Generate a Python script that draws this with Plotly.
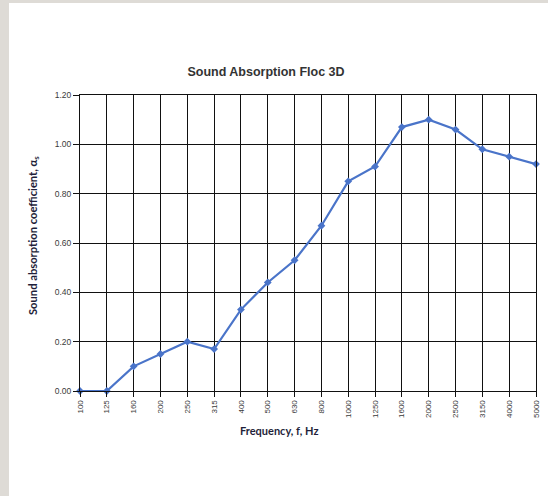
import plotly.graph_objects as go

frequencies = ["100", "125", "160", "200", "250", "315", "400", "500", "630", "800",
               "1000", "1250", "1600", "2000", "2500", "3150", "4000", "5000"]
absorption = [0.00, 0.00, 0.10, 0.15, 0.20, 0.17, 0.33, 0.44, 0.53, 0.67,
              0.85, 0.91, 1.07, 1.10, 1.06, 0.98, 0.95, 0.92]
y_ticks = [0.0, 0.2, 0.4, 0.6, 0.8, 1.0, 1.2]
y_tick_labels = ["0.00", "0.20", "0.40", "0.60", "0.80", "1.00", "1.20"]

W, H = 548, 496
L, R, T, B = 80, 12, 95, 105
pw, ph = W - L - R, H - T - B

fig = go.Figure()
fig.add_trace(go.Scatter(
    x=frequencies, y=absorption, mode="lines+markers",
    line=dict(color="#4a74c9", width=2.2),
    marker=dict(symbol="diamond", size=6, color="#4a74c9"),
    showlegend=False, cliponaxis=False,
))

fig.update_layout(
    width=W, height=H, autosize=False,
    margin=dict(l=L, r=R, t=T, b=B, pad=0, autoexpand=False),
    paper_bgcolor="white", plot_bgcolor="white",
    font=dict(family="Liberation Sans, Arial", color="#333333"),
    title=dict(text="<b>Sound Absorption Floc 3D</b>", x=266 / W, xanchor="center",
               y=1 - 72 / H, yanchor="middle",
               font=dict(size=12.5, color="#333333", family="Liberation Sans, Arial")),
    xaxis=dict(
        type="category", range=[0, len(frequencies) - 1], automargin=False,
        showgrid=True, gridcolor="#111111", gridwidth=1,
        showline=True, linecolor="#111111", linewidth=1, mirror=True,
        ticks="outside", ticklen=5, tickcolor="#111111",
        tickangle=-90, tickfont=dict(size=8, color="#3a3a3a"),
        zeroline=False,
    ),
    yaxis=dict(
        range=[0, 1.2], tickvals=y_ticks, ticktext=y_tick_labels, automargin=False,
        showgrid=True, gridcolor="#111111", gridwidth=1,
        showline=True, linecolor="#111111", linewidth=1, mirror=True,
        ticks="outside", ticklen=6, tickcolor="#111111",
        tickfont=dict(size=8.5, color="#3a3a3a"),
        zeroline=False,
    ),
    annotations=[
        dict(text="<b>Frequency, f, Hz</b>", xref="paper", yref="paper",
             x=(279 - L) / pw, y=-(430 - T - ph) / ph, xanchor="center", yanchor="middle",
             showarrow=False, font=dict(size=11, family="Lato, Open Sans", color="#1f1f3a")),
        dict(text="<b>Sound absorption coefficient, α<sub>s</sub></b>", xref="paper", yref="paper",
             x=-(L - 33) / pw, y=1 - (236 - T) / ph, xanchor="center", yanchor="middle",
             textangle=-90, showarrow=False,
             font=dict(size=11.2, family="Lato, Open Sans", color="#1f1f3a")),
    ],
    shapes=[
        dict(type="rect", xref="paper", yref="paper", layer="below",
             x0=-L / pw, x1=-(L - 9) / pw, y0=-B / ph, y1=1 + T / ph,
             fillcolor="#dedbd6", line=dict(width=0)),
        dict(type="rect", xref="paper", yref="paper", layer="below",
             x0=-L / pw, x1=1 + R / pw, y0=1 + (T - 3) / ph, y1=1 + T / ph,
             fillcolor="#dedbd6", line=dict(width=0)),
    ],
)

fig.write_html("out.html", config={"displayModeBar": False},
               post_script="document.body.style.margin='0';document.body.style.padding='0';")
